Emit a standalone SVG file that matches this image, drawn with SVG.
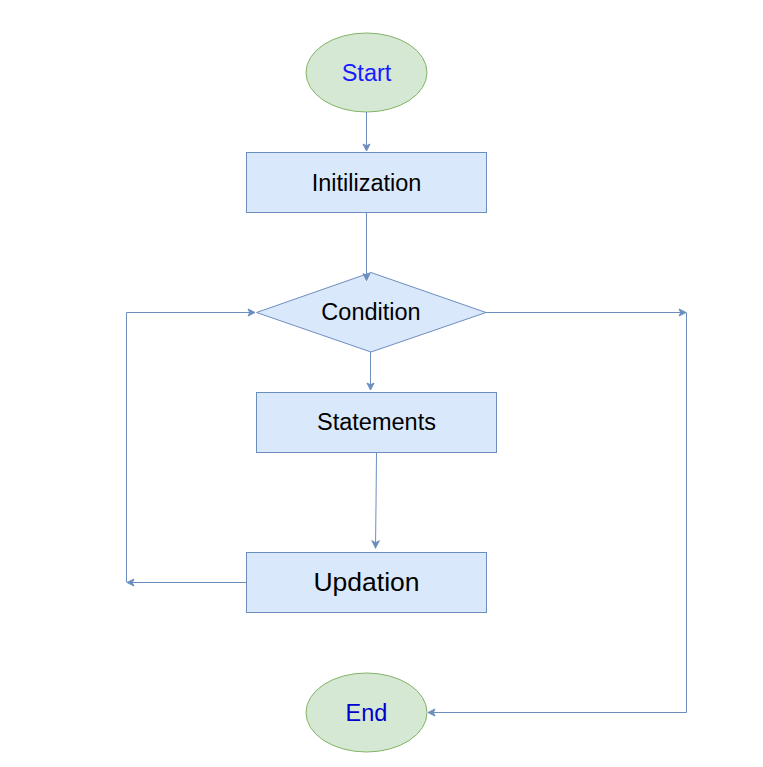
<svg xmlns="http://www.w3.org/2000/svg" width="763" height="767" viewBox="0 0 763 767">
<style>
.blue{fill:#dae8fc;stroke:#6c8ebf;stroke-width:1}
.green{fill:#d5e8d4;stroke:#82b366;stroke-width:1}
.t{font-family:"Liberation Sans",Arial,sans-serif;font-size:23.5px;fill:#000;text-anchor:middle;dominant-baseline:central}
.e{fill:none;stroke:#6c8ebf;stroke-width:1}
</style>
<defs>
<marker id="ah" markerWidth="10" markerHeight="10" refX="8" refY="5" orient="auto" markerUnits="userSpaceOnUse">
<path d="M1,1.5 L8,5 L1,8.5 L2.8,5 Z" fill="#6c8ebf" stroke="#6c8ebf" stroke-width="1"/>
</marker>
</defs>
<rect width="763" height="767" fill="#fff"/>
<g id="start">
<ellipse class="green" cx="366.5" cy="72.5" rx="60.5" ry="39.5"/>
<text class="t" x="366.5" y="73" style="fill:#1a1aff">Start</text>
</g>
<g id="init">
<rect class="blue" x="246.5" y="152.5" width="240" height="60"/>
<text class="t" x="366.5" y="182.5">Initilization</text>
</g>
<g id="condition">
<polygon class="blue" points="371,272.5 486,312.5 371,352 256.5,312.5"/>
<text class="t" x="371" y="312">Condition</text>
</g>
<g id="statements">
<rect class="blue" x="256.5" y="392.5" width="240" height="60"/>
<text class="t" x="376.5" y="422">Statements</text>
</g>
<g id="updation">
<rect class="blue" x="246.5" y="552.5" width="240" height="60"/>
<text class="t" x="366.5" y="582" style="font-size:26.5px">Updation</text>
</g>
<g id="end">
<ellipse class="green" cx="366.5" cy="712.5" rx="60.5" ry="39.5"/>
<text class="t" x="366.5" y="712.5" style="fill:#0000cc">End</text>
</g>
<g id="edges">
<path class="e" d="M366.5,112 L366.5,151" marker-end="url(#ah)"/>
<path class="e" d="M366.5,212.5 L366.5,280.5" marker-end="url(#ah)"/>
<path class="e" d="M370.5,352 L370.5,390" marker-end="url(#ah)"/>
<path class="e" d="M376.5,452.5 L376,505 L375.5,548" marker-end="url(#ah)"/>
<path class="e" d="M246.5,582.5 L127,582.5" marker-end="url(#ah)"/>
<path class="e" d="M126.5,582.5 L126.5,312.5 L255,312.5" marker-end="url(#ah)"/>
<path class="e" d="M486,312.5 L686,312.5" marker-end="url(#ah)"/>
<path class="e" d="M686.5,312.5 L686.5,712.5 L428,712.5" marker-end="url(#ah)"/>
</g>
</svg>
